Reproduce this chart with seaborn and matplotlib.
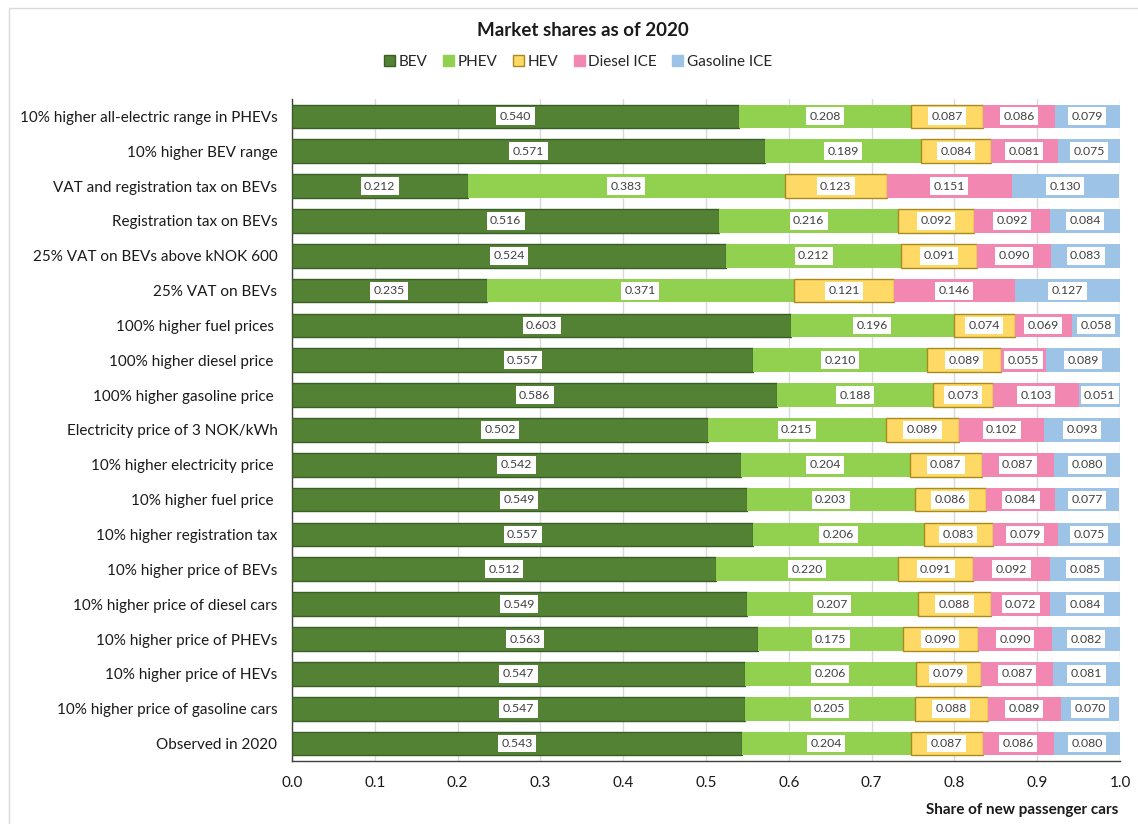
import matplotlib
matplotlib.use("Agg")
import matplotlib.pyplot as plt
import seaborn as sns
import pandas as pd
import numpy as np
from matplotlib.ticker import MultipleLocator
from matplotlib.patches import Rectangle, Patch

scenarios = [
    "10% higher all-electric range in PHEVs",
    "10% higher BEV range",
    "VAT and registration tax on BEVs",
    "Registration tax on BEVs",
    "25% VAT on BEVs above kNOK 600",
    "25% VAT on BEVs",
    "100% higher fuel prices ",
    "100% higher diesel price ",
    "100% higher gasoline price ",
    "Electricity price of 3 NOK/kWh",
    "10% higher electricity price ",
    "10% higher fuel price ",
    "10% higher registration tax",
    "10% higher price of BEVs",
    "10% higher price of diesel cars",
    "10% higher price of PHEVs",
    "10% higher price of HEVs",
    "10% higher price of gasoline cars",
    "Observed in 2020",
]

bev = [0.540, 0.571, 0.212, 0.516, 0.524, 0.235, 0.603, 0.557, 0.586, 0.502,
       0.542, 0.549, 0.557, 0.512, 0.549, 0.563, 0.547, 0.547, 0.543]
phev = [0.208, 0.189, 0.383, 0.216, 0.212, 0.371, 0.196, 0.210, 0.188, 0.215,
        0.204, 0.203, 0.206, 0.220, 0.207, 0.175, 0.206, 0.205, 0.204]
hev = [0.087, 0.084, 0.123, 0.092, 0.091, 0.121, 0.074, 0.089, 0.073, 0.089,
       0.087, 0.086, 0.083, 0.091, 0.088, 0.090, 0.079, 0.088, 0.087]
diesel = [0.086, 0.081, 0.151, 0.092, 0.090, 0.146, 0.069, 0.055, 0.103, 0.102,
          0.087, 0.084, 0.079, 0.092, 0.072, 0.090, 0.087, 0.089, 0.086]
gasoline = [0.079, 0.075, 0.130, 0.084, 0.083, 0.127, 0.058, 0.089, 0.051, 0.093,
            0.080, 0.077, 0.075, 0.085, 0.084, 0.082, 0.081, 0.070, 0.080]

series_names = ["BEV", "PHEV", "HEV", "Diesel ICE", "Gasoline ICE"]
fill_colors = ["#548235", "#92D050", "#FFD966", "#F287B2", "#9DC3E6"]
edge_colors = ["#3B5E25", "#92D050", "#A88A1E", "#F287B2", "#9DC3E6"]

df = pd.DataFrame({"scenario": scenarios, "BEV": bev, "PHEV": phev, "HEV": hev,
                   "Diesel ICE": diesel, "Gasoline ICE": gasoline})

sns.set_theme(style="white")
plt.rcParams["font.family"] = ["Lato", "DejaVu Sans"]

fig = plt.figure(figsize=(11.38, 8.24), dpi=100)
ax = fig.add_axes([0.2566, 0.0765, 0.7276, 0.8034])

bar_h = 0.68
# first layer through seaborn's categorical axis
sns.barplot(data=df, y="scenario", x="BEV", order=scenarios, orient="h",
            color=fill_colors[0], width=bar_h, saturation=1, ax=ax,
            edgecolor=edge_colors[0], linewidth=1.0, zorder=3)

ypos = np.arange(len(scenarios))
left = np.array(bev, dtype=float)
for name, fc, ec in zip(series_names[1:], fill_colors[1:], edge_colors[1:]):
    vals = df[name].to_numpy()
    lw = 1.0 if name == "HEV" else 0.0
    ax.barh(ypos, vals, left=left, height=bar_h, color=fc, edgecolor=ec,
            linewidth=lw, zorder=3)
    left = left + vals

# value labels in white boxes at each segment centre
start = np.zeros(len(scenarios))
for name in series_names:
    vals = df[name].to_numpy()
    for i, v in enumerate(vals):
        ax.text(start[i] + v / 2, i, f"{v:.3f}", ha="center", va="center",
                fontsize=8.8, color="#404040", zorder=5,
                bbox=dict(boxstyle="square,pad=0.28", fc="white", ec="none"))
    start = start + vals

ax.set_xlim(0, 1.0)
ax.set_ylim(len(scenarios) - 0.5, -0.5)
ax.xaxis.set_minor_locator(MultipleLocator(0.02))
ax.set_xticks(np.arange(0, 1.01, 0.1))
ax.set_xticklabels([f"{t:.1f}" for t in np.arange(0, 1.01, 0.1)], fontsize=11, color="#1a1a1a")
ax.grid(axis="x", which="major", color="#D9D9D9", linewidth=1.0, zorder=0)
ax.set_axisbelow(True)

# category labels, ticks placed between categories
ax.set_yticks(ypos)
ax.set_yticklabels(scenarios, fontsize=11, color="#1a1a1a")
ax.tick_params(axis="y", which="major", length=0, pad=10.5)
ax.set_yticks(np.arange(-0.5, len(scenarios), 1.0), minor=True)
ax.tick_params(axis="y", which="minor", length=5, width=1, color="#404040", direction="out")
ax.tick_params(axis="x", which="major", length=5, width=1, color="#404040", direction="out", pad=6)
ax.tick_params(axis="x", which="minor", length=4, width=1, color="#404040", direction="out")

for side in ["top", "right"]:
    ax.spines[side].set_visible(False)
for side in ["left", "bottom"]:
    ax.spines[side].set_visible(True)
    ax.spines[side].set_color("#404040")
    ax.spines[side].set_linewidth(1.0)

ax.set_xlabel("")
ax.set_ylabel("")

fig.text(583 / 1138, 1 - 30 / 824, "Market shares as of 2020", ha="center", va="center",
         fontsize=13.5, fontweight="bold", color="#1a1a1a")
fig.text(1118 / 1138, 1 - 810 / 824, "Share of new passenger cars", ha="right", va="center",
         fontsize=11, fontweight="bold", color="#1a1a1a")

handles = [Patch(facecolor=fc, edgecolor=(ec if n in ("BEV", "HEV") else fc), linewidth=1.0)
           for n, fc, ec in zip(series_names, fill_colors, edge_colors)]
fig.legend(handles, series_names, loc="center", bbox_to_anchor=(578 / 1138, 1 - 62 / 824),
           ncol=5, frameon=False, fontsize=11, handlelength=0.72, handleheight=0.72,
           handletextpad=0.25, columnspacing=1.0)

# thin chart-area frame
fig.patches.append(Rectangle((9 / 1138, -0.1), 1.2, 1 - 8 / 824 + 0.1,
                             transform=fig.transFigure, fill=False,
                             edgecolor="#D9D9D9", linewidth=1.0))

fig.savefig("out.png", dpi=100)
